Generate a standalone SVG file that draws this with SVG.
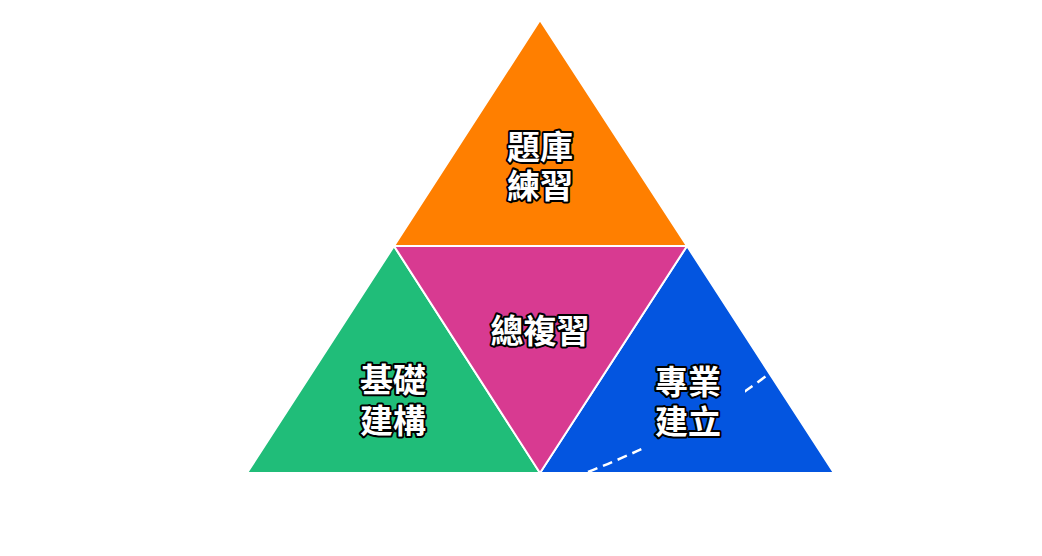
<svg xmlns="http://www.w3.org/2000/svg" width="1042" height="556" viewBox="0 0 1042 556">
<defs>
<style>
.tri{stroke:#ffffff;stroke-width:2;stroke-linejoin:miter}
.lbl{font-family:"Noto Sans CJK TC","Noto Sans CJK SC",sans-serif;font-weight:bold;font-size:33px;fill:#ffffff;stroke:#000000;stroke-width:4;paint-order:stroke;stroke-linejoin:round;text-anchor:middle}
.dash{fill:none;stroke:#ffffff;stroke-width:2.5;stroke-dasharray:10 6}
</style>
<clipPath id="gapClip">
<rect x="540" y="300" width="105" height="200"/>
<rect x="745" y="300" width="100" height="200"/>
</clipPath>
</defs>
<rect width="1042" height="556" fill="#ffffff"/>
<g id="top">
<polygon class="tri" points="540,20 394,246 687,246" fill="#FF7F00"/>
<text class="lbl" x="540" y="159">題庫</text>
<text class="lbl" x="540" y="198">練習</text>
</g>
<g id="left">
<polygon class="tri" points="394,246 247,473 540,473" fill="#20BD79"/>
<text class="lbl" x="393" y="392">基礎</text>
<text class="lbl" x="393" y="433">建構</text>
</g>
<g id="right">
<polygon class="tri" points="687,246 540,473 834,473" fill="#0355E0"/>
</g>
<g id="center">
<polygon class="tri" points="394,246 687,246 540,473" fill="#D83A91"/>
<text class="lbl" x="540" y="343">總複習</text>
</g>
<g id="connectors">
<path class="dash" clip-path="url(#gapClip)" d="M588,472 Q701,427 770,373"/>
</g>
<g id="right-label">
<text class="lbl" x="688" y="394">專業</text>
<text class="lbl" x="688" y="434">建立</text>
</g>
</svg>
